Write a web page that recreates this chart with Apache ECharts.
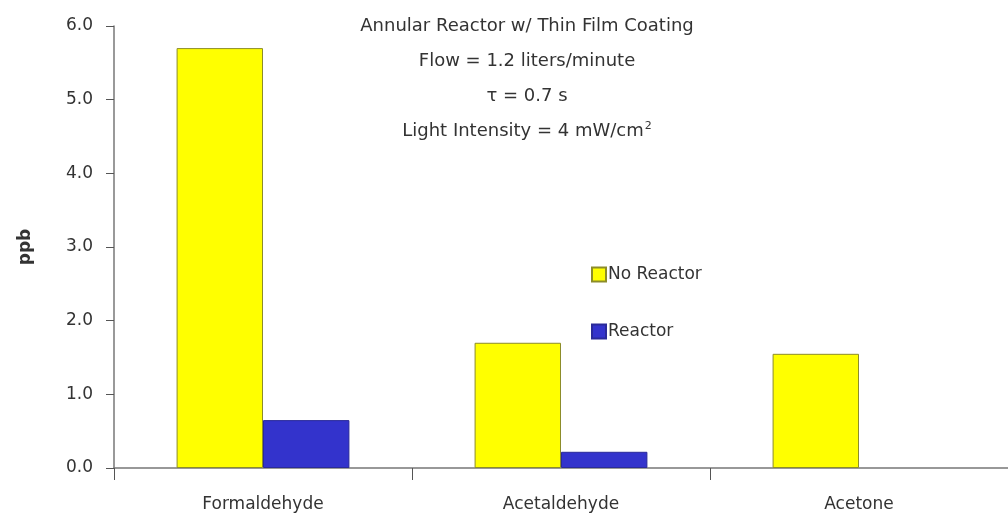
<!DOCTYPE html>
<html>
<head>
<meta charset="utf-8">
<script src="https://cdn.jsdelivr.net/npm/echarts@6/dist/echarts.min.js"></script>
<style>
  html, body { margin: 0; padding: 0; background: #fff; }
  #chart { width: 1008px; height: 521px; }
</style>
</head>
<body>
<div id="chart"></div>
<script>
// compounds on the x axis
const compounds = ['Formaldehyde', 'Acetaldehyde', 'Acetone'];
// ppb without / with the reactor (no reactor bar for acetone)
const noReactor = [5.7, 1.7, 1.55];
const withReactor = [0.65, 0.22, null];
const seriesNames = ['No Reactor', 'Reactor'];
const noteLines = [
  'Annular Reactor w/ Thin Film Coating',
  'Flow = 1.2 liters/minute',
  'τ = 0.7 s',
  'Light Intensity = 4 mW/cm{sup|2}'
];

const chart = echarts.init(document.getElementById('chart'));
const font = 'DejaVu Sans, Liberation Sans, sans-serif';
const textColor = '#333';

const option = {
  animation: false,
  textStyle: { fontFamily: font },
  grid: { left: 114, right: 0, top: 26, bottom: 53 },
  legend: {
    orient: 'vertical',
    left: 586,
    top: 261,
    itemGap: 40,
    itemWidth: 14,
    itemHeight: 14,
    icon: 'rect',
    textStyle: { fontSize: 17, color: textColor, padding: [0, 0, 0, -3], fontFamily: font },
    data: seriesNames
  },
  // annotation block in the top middle
  graphic: noteLines.map((line, i) => ({
    type: 'text',
    x: 527,
    y: 26 + i * 35,
    style: {
      text: line,
      x: 0,
      y: 0,
      textAlign: 'center',
      textVerticalAlign: 'middle',
      font: '18px ' + font,
      fill: textColor,
      rich: { sup: { fontSize: 11, fontFamily: font, verticalAlign: 'top', padding: [0, 0, 9, 1], fill: textColor } }
    }
  })),
  xAxis: {
    type: 'category',
    data: compounds,
    axisLine: { lineStyle: { color: '#777', width: 1.5 } },
    axisTick: { show: true, length: 12, lineStyle: { color: '#555' } },
    axisLabel: { fontSize: 17, color: textColor, margin: 28, fontFamily: font }
  },
  yAxis: {
    type: 'value',
    min: 0,
    max: 6,
    interval: 1,
    name: 'ppb',
    nameLocation: 'middle',
    nameGap: 80,
    nameRotate: 90,
    nameTextStyle: { fontSize: 17, fontWeight: 'bold', color: textColor, fontFamily: font },
    axisLine: { show: true, lineStyle: { color: '#777', width: 1.5 } },
    axisTick: { show: true, length: 8, lineStyle: { color: '#555' } },
    splitLine: { show: false },
    axisLabel: {
      fontSize: 17,
      color: textColor,
      margin: 21,
      fontFamily: font,
      formatter: v => v.toFixed(1)
    }
  },
  series: [
    {
      name: seriesNames[0],
      type: 'bar',
      data: noReactor,
      barGap: '0%',
      barCategoryGap: '42%',
      itemStyle: { color: '#ffff00', borderColor: '#8c8c2a', borderWidth: 1 }
    },
    {
      name: seriesNames[1],
      type: 'bar',
      data: withReactor,
      itemStyle: { color: '#3333cc', borderColor: '#2a2a99', borderWidth: 1 }
    }
  ]
};

chart.setOption(option);
</script>
</body>
</html>
